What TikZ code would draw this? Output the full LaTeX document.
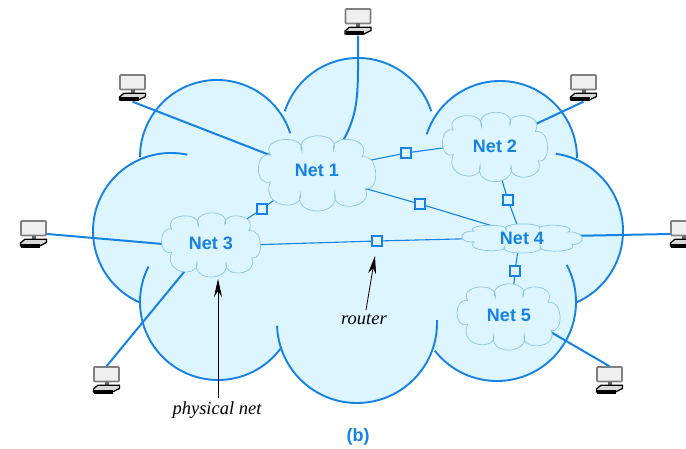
\documentclass[tikz,border=0pt]{standalone}
\usepackage{fontspec}
\setmainfont{Liberation Serif}
\setsansfont{Liberation Sans}
\usetikzlibrary{shapes.geometric,arrows.meta}
\definecolor{netblue}{HTML}{1582E6}
\definecolor{skyfill}{HTML}{DCF5FF}
\definecolor{puffline}{HTML}{8CC6E6}
\newcommand{\lobe}[5]{\draw[bigline] ({#1+#3*cos(#4)},{448-#2+#3*sin(#4)}) arc[start angle=#4,end angle=#5,radius=#3pt];}
\tikzset{
  x=1pt,y=1pt,
  bigline/.style={netblue,line width=1.9pt},
  hostlink/.style={netblue,line width=2pt},
  netlink/.style={netblue,line width=1.1pt},
  netcore/.style={ellipse,inner sep=0pt,minimum width=75pt,minimum height=75pt,transform shape},
  netlabel/.style={text=netblue,font=\sffamily\bfseries\fontsize{18}{20}\selectfont},
  routerbox/.style={draw=netblue,fill=skyfill,line width=1.1pt,minimum size=10pt,inner sep=0pt},
  hostnode/.style={minimum size=27pt,inner sep=0pt},
  notelabel/.style={font=\itshape\fontsize{18.5}{20}\selectfont,text=black},
  notearrow/.style={black,line width=0.8pt,-{Stealth[length=18pt,width=8pt]}},
  puffy/.pic={
    \draw[draw=puffline,fill=skyfill,line width=0.7pt]
      (-.81,.49) .. controls (-1.0,.98) and (-.20,1.08) .. (-.26,.58)
      .. controls (-.42,1.13) and (.42,1.15) .. (.29,.62)
      .. controls (.20,1.06) and (.98,1.0) .. (.78,.44)
      .. controls (1.09,.55) and (1.09,-.52) .. (.84,-.40)
      .. controls (1.0,-.95) and (.24,-1.06) .. (.31,-.53)
      .. controls (.42,-1.16) and (-.42,-1.16) .. (-.29,-.53)
      .. controls (-.22,-1.03) and (-1.0,-.93) .. (-.81,-.22)
      .. controls (-1.09,-.38) and (-1.09,.62) .. cycle;
  },
  hosticon/.pic={
    \draw[draw=black!50,fill=black!6,line width=1.7pt,rounded corners=0.8pt] (-12.5,13) rectangle (12.5,-1.5);
    \fill[black!60] (-2,-1.5) rectangle (2,-6);
    \draw[black,fill=black!15,line width=1.3pt] (-8.5,-5.2) -- (13,-5.2) -- (13,-8.5) -- (6,-12) -- (-13,-12) -- (-13,-9) -- cycle;
    \fill[black] (-12.5,-9.5) rectangle (6,-13.5);
  }
}
\begin{document}
\begin{tikzpicture}
\useasboundingbox (0,0) rectangle (686,448);
% cloud body
\fill[skyfill] (217,{448-157}) circle[radius=76pt] (171,{448-231}) circle[radius=78pt] (218,{448-302}) circle[radius=78pt]
  (357,{448-323}) circle[radius=80pt] (497,{448-302}) circle[radius=79pt] (545,{448-231}) circle[radius=78pt]
  (500,{448-158}) circle[radius=77pt] (358,{448-135}) circle[radius=77pt] (200,{448-115}) rectangle (500,{448-349});
\lobe{217}{157}{77}{18}{180}
\lobe{171}{231}{78}{78}{246}
\lobe{218}{302}{78}{153}{323}
\lobe{357}{323}{80}{182}{362}
\lobe{497}{302}{79}{218}{388}
\lobe{545}{231}{78}{-66}{82}
\lobe{500}{158}{77}{0}{162}
\lobe{358}{135}{77}{18}{162}
% network anchors (outlines are painted over the link ends below)
\node[netcore,xscale=1.15,yscale=0.75] (net1) at (317,{448-173.5}) {};
\node[netcore,xscale=1.03,yscale=0.69] (net2) at (495,{448-147}) {};
\node[netcore,xscale=0.97,yscale=0.64] (net3) at (211,{448-245}) {};
\node[netcore,xscale=1.18,yscale=0.29] (net4) at (522,{448-238.5}) {};
\node[netcore,xscale=1.01,yscale=0.66] (net5) at (508.5,{448-317}) {};
% routers
\node[routerbox] (r1) at (406,{448-153}) {};
\node[routerbox] (r2) at (420,{448-204}) {};
\node[routerbox] (r3) at (508,{448-200}) {};
\node[routerbox] (r4) at (262,{448-209}) {};
\node[routerbox] (r5) at (377,{448-241}) {};
\node[routerbox] (r6) at (515,{448-271}) {};
% hosts
\node[hostnode] (h1) at (132.5,{448-88}) {};
\node[hostnode] (h2) at (358,{448-22}) {};
\node[hostnode] (h3) at (583.5,{448-88}) {};
\node[hostnode] (h4) at (33.5,{448-234}) {};
\node[hostnode] (h5) at (683.5,{448-234}) {};
\node[hostnode] (h6) at (106.5,{448-380}) {};
\node[hostnode] (h7) at (609.5,{448-380}) {};
\foreach \hx/\hy in {132.5/88,358/22,583.5/88,33.5/234,683.5/234,106.5/380,609.5/380}
  \pic at (\hx,{448-\hy}) {hosticon};
% links between nets and routers
\draw[netlink] (net1.22) -- (r1) -- (net2.178);
\draw[netlink] (net1.-26) -- (r2) -- (net4.117);
\draw[netlink] (net2.-83) -- (r3) -- (net4.95);
\draw[netlink] (net1.222) -- (r4) -- (net3.49);
\draw[netlink] (net3.0) -- (r5) -- (net4.180);
\draw[netlink] (net4.265) -- (r6) -- (net5.83);
% host links
\draw[hostlink] (h1.south) -- (net1.149);
\draw[hostlink] (h2.south) .. controls (358,{448-95}) and (360,{448-115}) .. (net1.61);
\draw[hostlink] (h3.south) -- (net2.42);
\draw[hostlink] (h4.east) -- (net3.180);
\draw[hostlink] (h5.west) -- (net4.13);
\draw[hostlink] (h6.north) -- (net3.235);
\draw[hostlink] (h7.north) -- (net5.-25);
% network outlines and labels
\pic[xscale=57.5,yscale=37.5] at (net1.center) {puffy};
\pic[xscale=51.5,yscale=34.5] at (net2.center) {puffy};
\pic[xscale=48.5,yscale=32] at (net3.center) {puffy};
\pic[xscale=59,yscale=14.5] at (net4.center) {puffy};
\pic[xscale=50.5,yscale=33] at (net5.center) {puffy};
\node[netlabel] (lab1) at (317,{448-170}) {Net 1};
\node[netlabel] (lab2) at (495,{448-146}) {Net 2};
\node[netlabel] (lab3) at (211,{448-243}) {Net 3};
\node[netlabel] (lab4) at (522,{448-238}) {Net 4};
\node[netlabel] (lab5) at (509,{448-315}) {Net 5};
% notes
\node[notelabel] (lphys) at (217,{448-410}) {physical net};
\node[notelabel] (lrout) at (364,{448-319}) {router};
\coordinate (aphys) at (218,{448-279});
\coordinate (arout) at (375,{448-256});
\draw[notearrow] (lphys.north -| aphys) -- (aphys);
\draw[notearrow] (lrout.north) ++(2,0) -- (arout);
\node[font=\sffamily\bfseries\fontsize{18}{20}\selectfont,text=netblue] (cap) at (358,{448-437}) {(b)};
\end{tikzpicture}
\end{document}
